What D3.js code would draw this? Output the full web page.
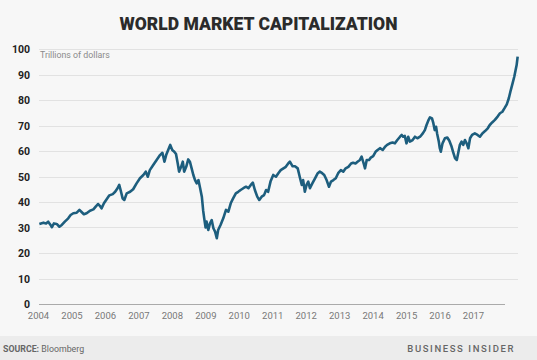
<!DOCTYPE html>
<html><head><meta charset="utf-8">
<script src="https://cdn.jsdelivr.net/npm/d3@7"></script>
<style>
html,body{margin:0;padding:0;background:#f7f7f7;}
svg{display:block;}
text{font-family:Roboto,"Noto Sans",sans-serif;}
</style></head>
<body>
<svg id="chart" width="537" height="360"></svg>
<script>
const title = "WORLD MARKET CAPITALIZATION";
const unitLabel = "Trillions of dollars";
const sourceLabel = "Bloomberg";
const brand = "BUSINESS INSIDER";
const yearLabels = ["2004","2005","2006","2007","2008","2009","2010","2011","2012","2013","2014","2015","2016","2017"];
const yTicks = [0,10,20,30,40,50,60,70,80,90,100];
// decimal year
const dates = [
2004.01,2004.13,2004.21,2004.27,2004.34,2004.38,2004.44,2004.52,2004.60,2004.67,2004.76,2004.86,2004.93,
2005.01,2005.11,2005.19,2005.26,2005.32,2005.40,2005.50,2005.60,2005.68,2005.74,2005.79,2005.84,2005.91,2005.99,
2006.07,2006.17,2006.24,2006.31,2006.36,2006.40,2006.46,2006.51,2006.58,2006.68,2006.77,2006.87,2006.97,
2007.07,2007.14,2007.20,2007.26,2007.36,2007.46,2007.56,2007.63,2007.69,2007.74,2007.80,2007.86,2007.92,2007.98,
2008.03,2008.08,2008.12,2008.18,2008.23,2008.27,2008.33,2008.39,2008.44,2008.49,2008.54,2008.59,2008.64,2008.69,2008.74,2008.79,2008.83,2008.86,2008.90,2008.93,2008.98,
2009.03,2009.08,2009.13,2009.18,2009.23,2009.27,2009.34,2009.42,2009.50,2009.57,2009.64,2009.71,2009.79,2009.86,2009.93,
2010.01,2010.09,2010.16,2010.23,2010.29,2010.35,2010.42,2010.48,2010.55,2010.62,2010.68,2010.74,2010.81,2010.89,2010.97,
2011.04,2011.11,2011.19,2011.26,2011.33,2011.38,2011.46,2011.53,2011.61,2011.68,2011.73,2011.77,2011.82,2011.87,2011.92,2011.97,
2012.04,2012.12,2012.20,2012.26,2012.33,2012.39,2012.46,2012.53,2012.59,2012.66,2012.73,2012.80,2012.88,2012.95,
2013.02,2013.10,2013.18,2013.24,2013.31,2013.37,2013.44,2013.49,2013.55,2013.59,2013.64,2013.71,2013.76,2013.83,2013.90,2013.96,
2014.03,2014.11,2014.18,2014.24,2014.32,2014.40,2014.47,2014.54,2014.62,2014.67,2014.71,2014.76,2014.81,2014.86,2014.91,2014.99,
2015.06,2015.13,2015.21,2015.29,2015.35,2015.40,2015.45,2015.50,2015.56,2015.60,2015.64,2015.68,2015.71,2015.76,2015.79,2015.82,2015.87,2015.94,
2016.01,2016.07,2016.13,2016.18,2016.24,2016.29,2016.33,2016.38,2016.43,2016.48,2016.53,2016.58,2016.63,2016.68,2016.74,2016.82,2016.90,2016.97,
2017.04,2017.12,2017.20,2017.26,2017.33,2017.41,2017.49,2017.56,2017.63,2017.69,2017.76,2017.82,2017.88,2017.93,2017.98,
2018.02,2018.05,2018.08
];
// trillions of dollars
const values = [
31.4,31.9,31.6,32.3,31.0,30.1,31.6,31.4,30.3,31.0,32.3,33.6,34.9,
35.6,35.8,36.9,36.0,35.2,35.6,36.6,37.1,38.4,39.2,38.5,37.5,39.5,41.1,
42.6,43.1,44.0,45.4,46.7,44.7,41.4,40.8,43.4,44.0,45.0,47.3,49.3,
50.6,51.9,49.9,52.5,54.5,56.5,58.4,59.3,55.8,58.4,60.4,62.4,60.4,59.7,
58.8,55.2,51.9,53.8,55.8,51.9,53.8,56.7,55.8,53.2,50.6,48.6,47.3,48.6,45.4,42.1,36.5,33.6,30.0,32.3,29.0,
31.6,32.9,29.7,28.4,25.8,29.0,31.0,33.6,36.9,36.2,39.5,41.4,43.4,44.0,44.7,
45.4,46.0,45.4,46.7,47.6,44.7,42.1,40.8,42.1,42.7,44.7,44.0,48.0,50.6,49.9,
51.3,52.5,53.2,53.8,55.1,55.8,54.0,54.0,53.2,49.3,46.7,48.6,44.0,46.7,48.0,45.4,
47.3,49.3,51.3,51.9,51.3,50.6,48.6,46.0,48.0,48.6,49.3,51.3,52.5,51.9,
53.2,53.8,55.1,55.4,55.1,55.8,56.5,57.8,55.1,53.2,56.5,56.5,57.4,58.0,59.7,60.4,
61.1,60.4,61.7,62.4,63.0,63.3,63.0,64.3,65.6,66.3,65.6,65.9,63.0,65.6,63.7,64.3,
65.6,65.0,65.6,66.9,68.2,70.2,71.9,73.2,72.8,70.9,68.2,69.5,66.9,63.7,61.1,59.7,63.0,65.0,
65.3,64.0,62.0,59.7,57.1,56.5,59.1,62.4,63.7,62.4,64.3,63.0,61.1,65.0,66.3,66.9,66.3,65.6,
66.9,67.8,68.9,70.2,71.2,72.2,73.5,74.8,75.4,76.7,78.3,80.7,84.0,86.5,89.1,
91.8,93.7,97.0
];

const svg = d3.select("#chart");
svg.append("rect").attr("x",0).attr("y",0).attr("width",537).attr("height",360).attr("fill","#f7f7f7");
svg.append("rect").attr("x",0).attr("y",336).attr("width",537).attr("height",24).attr("fill","#ececec");

const x = d3.scaleLinear().domain([2004, 2018.09]).range([39, 518]);
const y = d3.scaleLinear().domain([0, 100]).range([304, 49]);
const xl = d3.scalePoint().domain(yearLabels).range([38, 473]);

// gridlines
svg.append("g").selectAll("line").data(yTicks.filter(d=>d>0)).join("line")
  .attr("x1",39).attr("x2",518)
  .attr("y1",d=>Math.round(y(d))+0.5).attr("y2",d=>Math.round(y(d))+0.5)
  .attr("stroke","#e2e2e2").attr("stroke-width",1);
// baseline
svg.append("line").attr("x1",39).attr("x2",505)
  .attr("y1",Math.round(y(0))+0.5).attr("y2",Math.round(y(0))+0.5)
  .attr("stroke","#aaaaaa").attr("stroke-width",1);

// y axis labels
const yAxis = d3.axisLeft(y).tickValues(yTicks).tickSize(0).tickPadding(0);
const gy = svg.append("g").attr("transform","translate(30,0)").call(yAxis);
gy.select(".domain").remove();
gy.selectAll("text").attr("font-family","Roboto, sans-serif").attr("font-size","10.5px")
  .attr("font-weight","700").attr("fill","#222").attr("dy","0.35em");

// x axis labels
const xAxis = d3.axisBottom(xl).tickSize(0).tickPadding(0);
const gx = svg.append("g").attr("transform","translate(0,312)").call(xAxis);
gx.select(".domain").remove();
gx.selectAll("text").attr("font-family","Roboto, sans-serif").attr("font-size","9.5px")
  .attr("fill","#777").attr("dy","0.71em");

// unit label
svg.append("text").attr("x",40).attr("y",58).text(unitLabel)
  .attr("font-size","8.8px").attr("fill","#8a8a8a");

// line
const data = dates.map((d,i)=>({t:d, v:values[i]}));
const line = d3.line().x(d=>x(d.t)).y(d=>y(d.v)).curve(d3.curveLinear);
svg.append("path").datum(data).attr("d",line).attr("fill","none")
  .attr("stroke","#1d5e7e").attr("stroke-width",2.6).attr("stroke-linejoin","round");

// title
svg.append("text").attr("x",258.5).attr("y",30).attr("text-anchor","middle")
  .attr("font-size","18.5px").attr("font-weight","900").attr("fill","#2b2b2b")
  .attr("textLength",278).attr("lengthAdjust","spacingAndGlyphs").text(title);

// footer
const src = svg.append("text").attr("x",3).attr("y",352).attr("font-size","8.8px").attr("fill","#666");
src.append("tspan").attr("font-weight","700").text("SOURCE:");
src.append("tspan").text(" " + sourceLabel);
svg.append("text").attr("x",515).attr("y",352).attr("text-anchor","end")
  .attr("font-size","9.5px").attr("font-weight","500").attr("fill","#666")
  .attr("letter-spacing","1.6px").text(brand);
</script>
</body></html>
